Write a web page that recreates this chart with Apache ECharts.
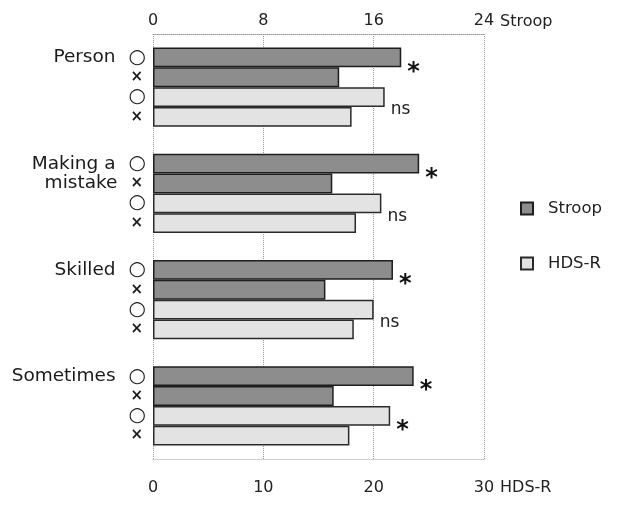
<!DOCTYPE html>
<html>
<head>
<meta charset="utf-8">
<script src="https://cdn.jsdelivr.net/npm/echarts@6/dist/echarts.min.js"></script>
<style>
  html, body { margin: 0; padding: 0; background: #fff; }
  #chart { width: 617px; height: 506px; }
</style>
</head>
<body>
<div id="chart"></div>
<script>
// Word items, top to bottom
const categories = ['Person', 'Making a\nmistake', 'Skilled', 'Sometimes'];

// Stroop scores (top axis, 0-24) for the "O" and "×" responses
const stroopO = [18.0, 19.3, 17.4, 18.9];
const stroopX = [13.5, 13.0, 12.5, 13.1];

// HDS-R scores (bottom axis, 0-30) for the "O" and "×" responses
const hdsO = [21.0, 20.7, 20.0, 21.5];
const hdsX = [18.0, 18.4, 18.2, 17.8];

// Significance marks between O and ×
const sigStroop = ['*', '*', '*', '*'];
const sigHds = ['ns', 'ns', 'ns', '*'];

// Axis ticks
const stroopTicks = { min: 0, max: 24, interval: 8 };
const hdsTicks = { min: 0, max: 30, interval: 10 };

const FONT = 'DejaVu Sans';
const ROW = 19.7;

const dark = {
  color: '#8d8d8d',
  borderColor: '#1e1e1e',
  borderWidth: 1.5
};
const light = {
  color: '#e3e3e3',
  borderColor: '#2a2a2a',
  borderWidth: 1.5
};

function sigLabel(marks) {
  return {
    show: true,
    position: 'right',
    distance: 6,
    formatter: p => {
      const m = marks[p.dataIndex];
      return m === '*' ? '{a|*}' : '{b|' + m + '}';
    },
    rich: {
      a: { fontFamily: FONT, fontSize: 24, fontWeight: 'bold', color: '#111', padding: [30, 0, 0, 0] },
      b: { fontFamily: FONT, fontSize: 17, color: '#222', padding: [26, 0, 0, 0] }
    }
  };
}

// Each category label holds four rows: the item name beside the first
// row(s) and a ○ / × marker for every bar.
function categoryLabel(value) {
  const names = value.split('\n');
  const marks = ['o', 'x', 'o', 'x'];
  const lines = marks.map((m, i) => {
    const mark = m === 'o' ? '{o|○}' : '{x|×}';
    return names[i] ? '{n|' + names[i] + '}{s| }' + mark : mark;
  });
  return lines.join('\n');
}

const chart = echarts.init(document.getElementById('chart'));

chart.setOption({
  animation: false,
  backgroundColor: '#ffffff',
  grid: { left: 153, right: 133, top: 34, bottom: 47, containLabel: false },
  legend: {
    orient: 'vertical',
    left: 520,
    top: 200,
    padding: 0,
    icon: 'rect',
    itemWidth: 12,
    itemHeight: 12,
    itemGap: 38,
    data: ['Stroop', 'HDS-R'],
    textStyle: { fontFamily: FONT, fontSize: 16.5, color: '#222', padding: [0, 0, 0, 10] }
  },
  xAxis: [
    {
      type: 'value',
      position: 'top',
      min: stroopTicks.min,
      max: stroopTicks.max,
      interval: stroopTicks.interval,
      name: 'Stroop',
      nameLocation: 'end',
      nameGap: 16,
      nameTextStyle: { fontFamily: FONT, fontSize: 16, color: '#222', verticalAlign: 'bottom', padding: [0, 0, 4, 0] },
      axisLine: { show: true, lineStyle: { color: '#999', type: 'dotted', width: 1 } },
      axisTick: { show: false },
      axisLabel: { fontFamily: FONT, fontSize: 16, color: '#222', margin: 5 },
      splitLine: { show: true, lineStyle: { color: '#9a9a9a', type: 'dotted', width: 1 } }
    },
    {
      type: 'value',
      position: 'bottom',
      min: hdsTicks.min,
      max: hdsTicks.max,
      interval: hdsTicks.interval,
      name: 'HDS-R',
      nameLocation: 'end',
      nameGap: 16,
      nameTextStyle: { fontFamily: FONT, fontSize: 16, color: '#222', verticalAlign: 'top', padding: [21, 0, 0, 0] },
      axisLine: { show: true, lineStyle: { color: '#c4c4c4', type: 'dotted', width: 1 } },
      axisTick: { show: false },
      axisLabel: { fontFamily: FONT, fontSize: 16, color: '#222', margin: 21 },
      splitLine: { show: false }
    }
  ],
  yAxis: {
    type: 'category',
    inverse: true,
    data: categories,
    axisLine: { show: false },
    axisTick: { show: false },
    splitLine: { show: false },
    axisLabel: {
      interval: 0,
      margin: 7,
      formatter: categoryLabel,
      rich: {
        n: { fontFamily: FONT, fontSize: 18.5, color: '#1a1a1a', lineHeight: ROW, align: 'right' },
        s: { width: 13, lineHeight: ROW, align: 'right' },
        o: { fontFamily: FONT, fontSize: 20, fontWeight: 'bold', color: '#1a1a1a', lineHeight: ROW, align: 'right' },
        x: { fontFamily: FONT, fontSize: 15, fontWeight: 'bold', color: '#1a1a1a', lineHeight: ROW, align: 'right', padding: [0, 3, 0, 0] }
      }
    }
  },
  series: [
    {
      name: 'Stroop', type: 'bar', xAxisIndex: 0, data: stroopO,
      barGap: '0%', barCategoryGap: '25.6%',
      itemStyle: dark, label: sigLabel(sigStroop)
    },
    {
      name: 'Stroop', type: 'bar', xAxisIndex: 0, data: stroopX,
      itemStyle: dark
    },
    {
      name: 'HDS-R', type: 'bar', xAxisIndex: 1, data: hdsO,
      itemStyle: light, label: sigLabel(sigHds)
    },
    {
      name: 'HDS-R', type: 'bar', xAxisIndex: 1, data: hdsX,
      itemStyle: light
    }
  ]
});
</script>
</body>
</html>
